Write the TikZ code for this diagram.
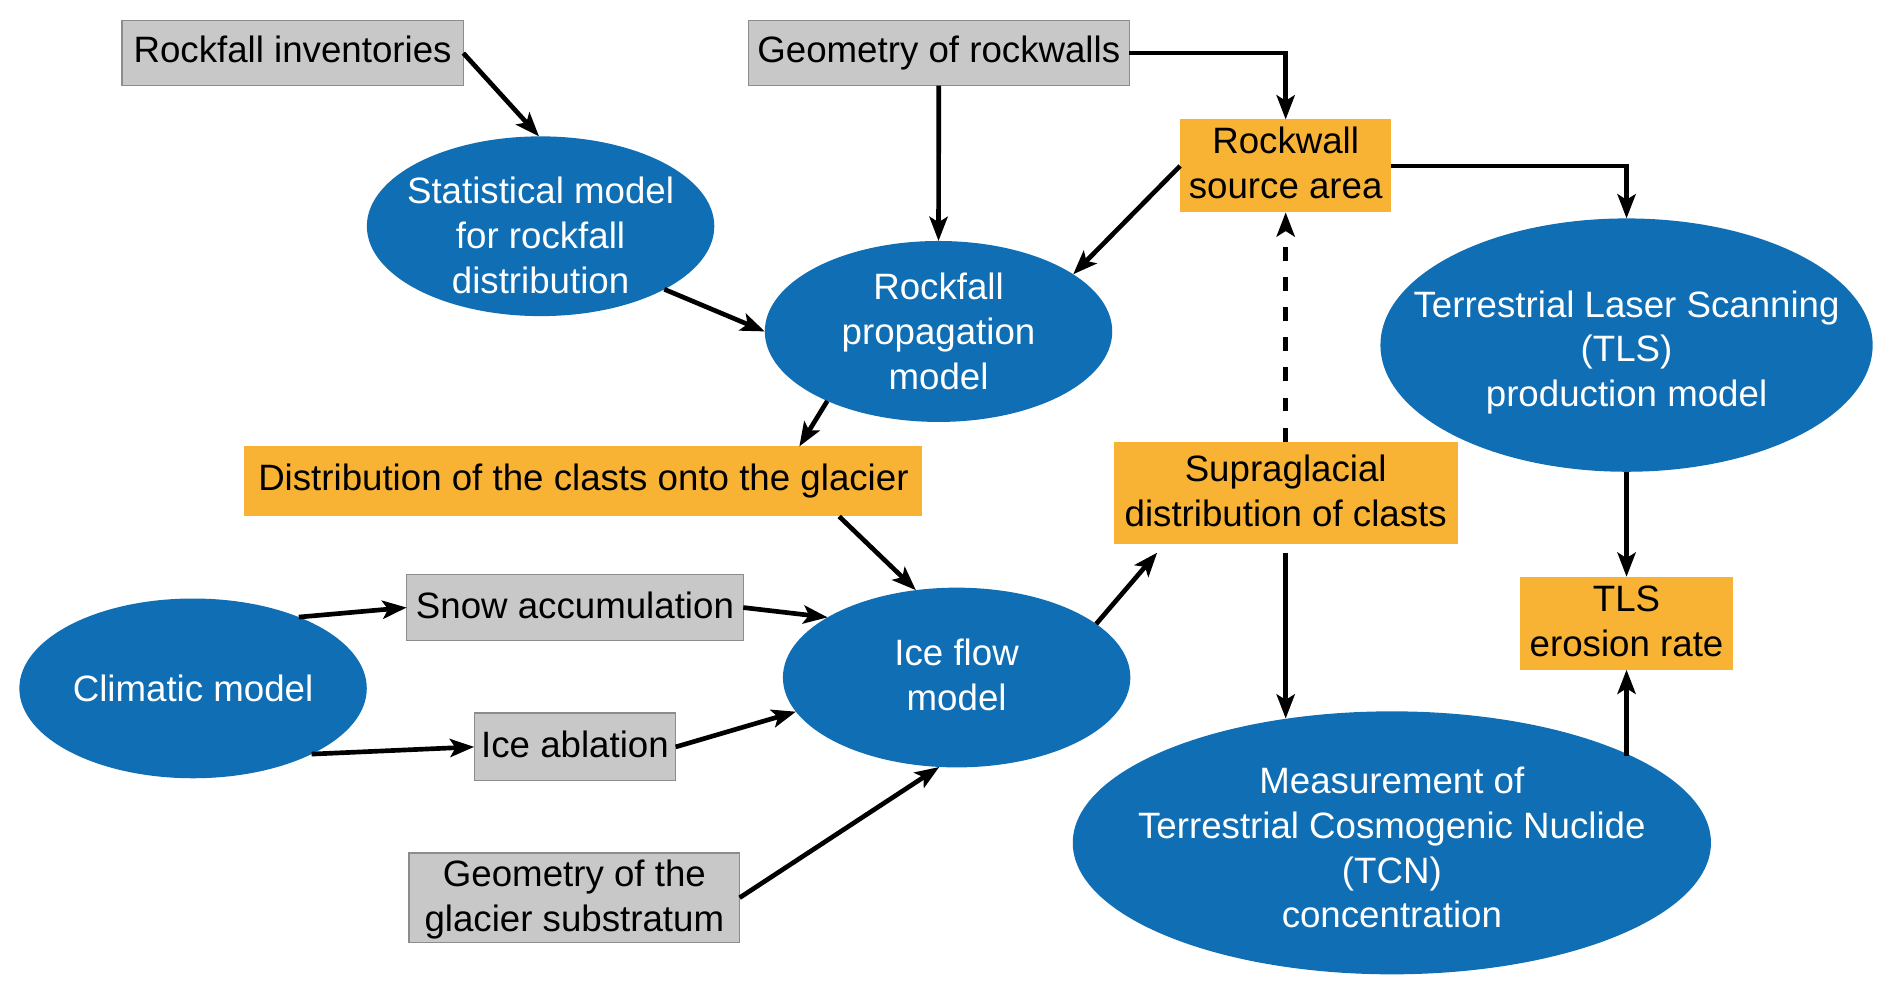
\documentclass[tikz,border=0pt]{standalone}
\usepackage{fontspec}
\setmainfont{Liberation Sans}
\usetikzlibrary{arrows.meta,calc,shapes.geometric}
\definecolor{cblue}{HTML}{106EB4}
\definecolor{corange}{HTML}{F8B334}
\definecolor{cgray}{HTML}{C8C8C8}
\definecolor{cgrayline}{HTML}{8C8C8C}
\newcommand{\linesshift}[2]{\raisebox{#1}[\height][\depth]{\begin{tabular}{@{}c@{}}#2\end{tabular}}}
\begin{document}
\begin{tikzpicture}[x=0.02cm,y=-0.02cm,
  txt/.style={font=\fontsize{17.3}{21.1}\selectfont, align=center},
  graybox/.style={txt, rectangle, draw=cgrayline, line width=0.6pt, fill=cgray, text=black, inner sep=0pt, outer sep=0pt},
  orbox/.style={txt, rectangle, fill=corange, text=black, inner sep=0pt, outer sep=0pt},
  ell/.style={txt, ellipse, fill=cblue, text=white, inner xsep=-1.2cm, inner ysep=-0.4cm, outer sep=0pt},
  arr/.style={line width=2.2pt, -{Stealth[length=0.40cm,width=0.30cm,inset=0.09cm]}},
  dasharr/.style={arr, dash pattern=on 0.23cm off 0.27cm}
]
\useasboundingbox (0,0) rectangle (1568,824);
% gray boxes
\node[graybox, minimum width=5.66cm, minimum height=1.08cm] (inv) at (242.5,44) {\linesshift{-0.01cm}{Rockfall inventories}};
\node[graybox, minimum width=6.32cm, minimum height=1.08cm] (geo) at (778,44) {Geometry of rockwalls};
\node[graybox, minimum width=5.58cm, minimum height=1.10cm] (snow) at (476.5,503.5) {\linesshift{-0.03cm}{Snow accumulation}};
\node[graybox, minimum width=3.34cm, minimum height=1.12cm] (abl) at (476.5,619) {\linesshift{-0.03cm}{Ice ablation}};
\node[graybox, minimum width=5.48cm, minimum height=1.48cm] (sub) at (476,744) {\linesshift{-0.04cm}{Geometry of the\\glacier substratum}};
% orange boxes
\node[orbox, minimum width=3.50cm, minimum height=1.54cm] (src) at (1065.5,137.5) {\linesshift{-0.02cm}{Rockwall\\source area}};
\node[orbox, minimum width=11.24cm, minimum height=1.16cm] (dist) at (483.5,399) {Distribution of the clasts onto the glacier};
\node[orbox, minimum width=5.70cm, minimum height=1.70cm] (supra) at (1065.5,408.5) {\linesshift{-0.03cm}{Supraglacial\\distribution of clasts}};
\node[orbox, minimum width=3.52cm, minimum height=1.54cm] (ero) at (1348,516.5) {\linesshift{-0.03cm}{TLS\\erosion rate}};
% ellipses
\node[ell, minimum width=5.76cm, minimum height=2.98cm] (stat) at (448,187.5) {\linesshift{-0.22cm}{Statistical model\\for rockfall\\distribution}};
\node[ell, minimum width=5.76cm, minimum height=3.00cm] (prop) at (777.8,274.7) {Rockfall\\propagation\\model};
\node[ell, minimum width=5.76cm, minimum height=2.98cm] (ice) at (792.8,561.5) {\linesshift{-0.03cm}{Ice flow\\model}};
\node[ell, minimum width=5.76cm, minimum height=2.98cm] (clim) at (160,570.5) {Climatic model};
\node[ell, minimum width=8.16cm, minimum height=4.20cm] (tls) at (1348,286) {\linesshift{-0.13cm}{Terrestrial Laser Scanning\\(TLS)\\production model}};
\node[ell, minimum width=10.58cm, minimum height=4.36cm] (tcn) at (1153.5,698.5) {\linesshift{-0.15cm}{Measurement of\\Terrestrial Cosmogenic Nuclide\\(TCN)\\concentration}};
% connectors
\draw[arr] (inv.east) -- (stat.91);
\draw[arr] (geo.south) -- (prop.north);
\draw[arr] (geo.east) -| (src.north);
\draw[arr] (src.east) -| (tls.north);
\draw[arr] (src.west) -- (prop.23);
\draw[arr] (stat.-27.4) -- (prop.west);
\draw[arr] (prop.212.6) -- ($(dist.north east)+(-102,0)$);
\draw[arr] ($(dist.south east)+(-69,0)$) -- (ice.115);
\draw[arr] (clim.34) -- (snow.west);
\draw[arr] (snow.east) -- (ice.155);
\draw[arr] (clim.-29) -- (abl.west);
\draw[arr] (abl.east) -- (ice.192.5);
\draw[arr] (sub.east) -- (ice.259);
\draw[arr] (ice.21.3) -- ($(supra.south west)+(36,7)$);
\draw[arr] ($(supra.south)+(0,7)$) -- (supra.south |- tcn.130.6);
\draw[dasharr] (supra.north) -- (src.south);
\draw[arr] (tls.south) -- (ero.north);
\draw[arr] (ero.south |- tcn.20.8) -- (ero.south);
\end{tikzpicture}
\end{document}
